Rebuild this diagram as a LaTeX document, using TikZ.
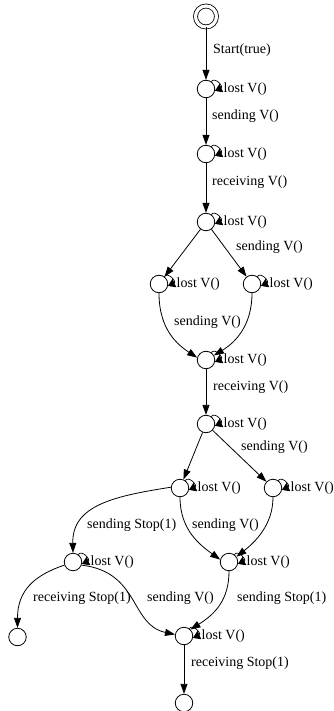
\documentclass[tikz,border=0pt]{standalone}
\usepackage{fontspec}
\setmainfont{Liberation Serif}
\usetikzlibrary{arrows.meta}
\begin{document}
\begin{tikzpicture}[x=1pt,y=-1pt,
  state/.style={circle,draw,line width=0.8pt,minimum size=17.5pt,inner sep=0pt},
  initstate/.style={circle,draw,line width=0.8pt,minimum size=21pt,inner sep=0pt,
    double=white,double distance=3.2pt},
  edge/.style={line width=0.8pt,-{Triangle[length=10pt,width=7pt]}},
  loopedge/.style={line width=0.7pt,-{Triangle[length=7pt,width=9pt]}},
  lbl/.style={anchor=west,inner sep=0pt,font=\fontsize{14}{16}\selectfont}]
\useasboundingbox (0,0) rectangle (333,711);

% states
\node[initstate] (s0) at (206,16.5) {};
\node[state] (s1) at (206,89) {};
\node[state] (s2) at (206,154) {};
\node[state] (s3) at (206,222) {};
\node[state] (s4) at (159,284) {};
\node[state] (s5) at (252,284) {};
\node[state] (s6) at (206,360) {};
\node[state] (s7) at (206,424) {};
\node[state] (s8) at (180,488) {};
\node[state] (s9) at (273,488) {};
\node[state] (s10) at (73,562) {};
\node[state] (s11) at (229,562) {};
\node[state] (s12) at (17.5,637) {};
\node[state] (s13) at (184,636) {};
\node[state] (s14) at (184,703) {};

% self loops "lost V()"
\foreach \s in {s1,s2,s3,s4,s5,s6,s7,s8,s9,s10,s11,s13}{
  \draw[loopedge] (\s.55) .. controls +(4,-5) and +(9,-4) .. (\s.-12);
  \node[lbl] at ([xshift=17.5pt]\s.center) {lost V()};
}

% straight transitions
\draw[edge] (s0) -- (s1);
\draw[edge] (s1) -- (s2);
\draw[edge] (s2) -- (s3);
\draw[edge] (s3) -- (s4);
\draw[edge] (s3) -- (s5);
\draw[edge] (s6) -- (s7);
\draw[edge] (s7) -- (s8);
\draw[edge] (s7) -- (s9);
\draw[edge] (s13) -- (s14);

% curved transitions
\draw[edge] (s4.south) .. controls (159,330) and (178,345) .. (s6.165);
\draw[edge] (s5.south) .. controls (252,325) and (236,342) .. (s6.30);
\draw[edge] (s8.175) .. controls (115,496) and (72,505) .. (s10.north);
\draw[edge] (s8.south) .. controls (180,530) and (200,545) .. (s11.165);
\draw[edge] (s9.south) .. controls (273,525) and (255,542) .. (s11.35);
\draw[edge] (s10.200) .. controls (35,575) and (17.5,590) .. (s12.north);
\draw[edge] (s10.-20) .. controls (140,572) and (130,625) .. (s13.170);
\draw[edge] (s11.south) .. controls (229,600) and (215,614) .. (s13.45);

% transition labels
\node[lbl] at (213,50) {Start(true)};
\node[lbl] at (212,116) {sending V()};
\node[lbl] at (212,182) {receiving V()};
\node[lbl] at (236,247) {sending V()};
\node[lbl] at (174,322) {sending V()};
\node[lbl] at (213,387) {receiving V()};
\node[lbl] at (241,447) {sending V()};
\node[lbl] at (87,525) {sending Stop(1)};
\node[lbl] at (192,525) {sending V()};
\node[lbl] at (33,598) {receiving Stop(1)};
\node[lbl] at (147,598) {sending V()};
\node[lbl] at (237,598) {sending Stop(1)};
\node[lbl] at (191,663) {receiving Stop(1)};
\end{tikzpicture}
\end{document}
